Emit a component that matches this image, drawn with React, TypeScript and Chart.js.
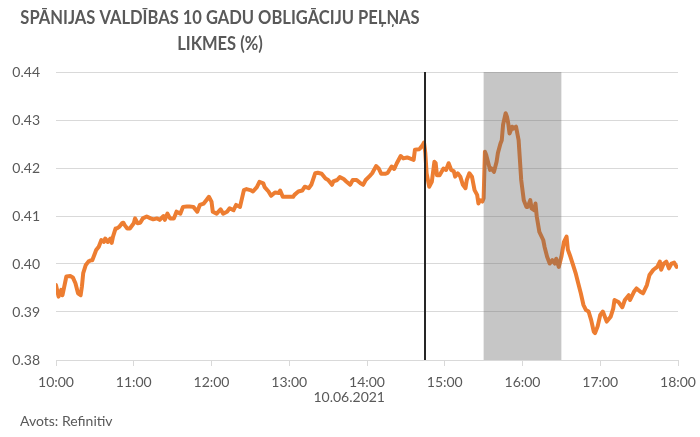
import React, { useEffect, useRef } from 'react';
import { Chart, registerables } from 'chart.js';

Chart.register(...registerables);

// minutes after 10:00 (10.06.2021)
const minutes = [
  0, 2, 4, 5, 8, 11, 13, 15, 17, 19, 20, 21, 23, 25, 27, 28, 30, 31, 33, 35,
  37, 38, 40, 42, 43, 44, 46, 47, 49, 51, 52, 53, 55, 57, 60, 61, 63, 65, 67, 70,
  73, 75, 78, 80, 83, 84, 86, 88, 91, 93, 96, 98, 101, 103, 106, 109, 111, 114, 116, 118,
  120, 121, 124, 127, 129, 132, 134, 137, 139, 142, 145, 147, 150, 152, 155, 157, 160, 161, 164, 166,
  169, 172, 173, 175, 179, 181, 183, 184, 187, 190, 192, 195, 197, 200, 202, 205, 208, 210, 213, 214,
  217, 219, 222, 224, 227, 229, 232, 235, 237, 239, 242, 244, 247, 249, 251, 254, 256, 259, 261, 263,
  266, 268, 271, 273, 276, 277, 280, 281, 283, 284, 285, 286, 288, 290, 292, 293, 294, 296, 299, 301,
  303, 305, 307, 308, 310, 312, 314, 316, 317, 319, 321, 322, 323, 325, 326, 327, 329, 330, 331, 332,
  334, 335, 336, 338, 340, 341, 343, 344, 345, 347, 348, 349, 350, 352, 353, 355, 357, 358, 359, 361,
  363, 364, 366, 367, 369, 370, 371, 373, 376, 377, 379, 381, 383, 385, 386, 388, 390, 392, 394, 395,
  397, 399, 401, 403, 405, 407, 409, 411, 413, 415, 416, 418, 420, 422, 424, 425, 428, 430, 431, 434,
  437, 439, 442, 443, 446, 448, 451, 453, 456, 458, 461, 464, 466, 467, 469, 471, 473, 475, 477, 479,
];

const yields = [
  0.3956, 0.3932, 0.3946, 0.3935, 0.3974, 0.3975, 0.3972, 0.396, 0.3939, 0.3935, 0.3953, 0.3981, 0.3998, 0.4005, 0.4008, 0.4008, 0.4022, 0.4029, 0.4036, 0.405,
  0.4046, 0.4053, 0.4046, 0.4053, 0.4044, 0.4057, 0.4074, 0.4074, 0.4078, 0.4085, 0.4086, 0.4081, 0.4074, 0.4074, 0.4085, 0.4095, 0.4085, 0.4086, 0.4095, 0.4099,
  0.4095, 0.4093, 0.4095, 0.4092, 0.41, 0.4092, 0.4105, 0.4095, 0.4095, 0.4109, 0.4105, 0.4119, 0.412, 0.412, 0.4119, 0.4109, 0.4123, 0.4126, 0.4133, 0.414,
  0.413, 0.4109, 0.4105, 0.4114, 0.4105, 0.4109, 0.4116, 0.4112, 0.4123, 0.4119, 0.4154, 0.4156, 0.4154, 0.4151, 0.416, 0.4171, 0.4168, 0.416, 0.4151, 0.4142,
  0.4149, 0.4148, 0.4153, 0.414, 0.414, 0.414, 0.414, 0.4144, 0.4151, 0.4153, 0.4161, 0.4158, 0.4165, 0.4189, 0.419, 0.4188, 0.4178, 0.4175, 0.4165, 0.4172,
  0.4175, 0.4181, 0.4177, 0.4172, 0.4165, 0.4175, 0.4175, 0.4168, 0.4165, 0.4175, 0.4183, 0.4189, 0.4204, 0.4199, 0.4188, 0.4188, 0.419, 0.4203, 0.4198, 0.421,
  0.4225, 0.422, 0.4222, 0.422, 0.4217, 0.4238, 0.4239, 0.4241, 0.4248, 0.4253, 0.4231, 0.4189, 0.4161, 0.4171, 0.4213, 0.421, 0.4185, 0.4185, 0.4199, 0.4196,
  0.421, 0.4196, 0.4193, 0.4182, 0.4189, 0.4182, 0.4165, 0.4158, 0.4175, 0.4189, 0.4182, 0.4168, 0.4154, 0.4144, 0.4126, 0.4133, 0.413, 0.4137, 0.4234, 0.4227,
  0.4206, 0.4196, 0.4199, 0.4192, 0.4213, 0.4231, 0.4251, 0.4258, 0.429, 0.4314, 0.4307, 0.4293, 0.4272, 0.4286, 0.4282, 0.4286, 0.4258, 0.4217, 0.4175, 0.4133,
  0.4119, 0.4119, 0.4133, 0.4116, 0.4112, 0.4126, 0.4099, 0.4067, 0.405, 0.4036, 0.4015, 0.4001, 0.4008, 0.4001, 0.4011, 0.3994, 0.4015, 0.4046, 0.4057, 0.403,
  0.4015, 0.3998, 0.3981, 0.396, 0.3939, 0.3915, 0.3904, 0.3901, 0.3883, 0.3859, 0.3856, 0.387, 0.3894, 0.3901, 0.3887, 0.388, 0.389, 0.3907, 0.3925, 0.3921,
  0.391, 0.3925, 0.3935, 0.3925, 0.3942, 0.3949, 0.3942, 0.3939, 0.3956, 0.3977, 0.3988, 0.3994, 0.4005, 0.3988, 0.4001, 0.4005, 0.3991, 0.4001, 0.4003, 0.3994,
];

const hourLabels = ['10:00', '11:00', '12:00', '13:00', '14:00', '15:00', '16:00', '17:00', '18:00'];
const yMin = 0.38;
const yMax = 0.44;
const yStep = 0.01;

const titleLines = ['SPĀNIJAS VALDĪBAS 10 GADU OBLIGĀCIJU PEĻŅAS', 'LIKMES (%)'];
const dateLabel = '10.06.2021';
const dateUnderHour = 240; // under 14:00
const sourceLabel = 'Avots: Refinitiv';
const eventMinute = 285; // 14:45
const bandStartMinute = 330; // 15:30
const bandEndMinute = 390; // 16:30

const TEXT = '#595959';
const GRID = '#d9d9d9';
const FONT = 'Lato, "Open Sans", sans-serif';

export default function App() {
  const ref = useRef<HTMLCanvasElement | null>(null);

  useEffect(() => {
    document.body.style.margin = '0';
    const canvas = ref.current;
    if (!canvas) return;

    const overlay = {
      id: 'overlay',
      afterDatasetsDraw(chart: any) {
        const { ctx, chartArea, scales } = chart;
        const x = scales.x;
        ctx.save();
        const x0 = x.getPixelForValue(bandStartMinute);
        const x1 = x.getPixelForValue(bandEndMinute);
        ctx.fillStyle = 'rgba(100,100,100,0.37)';
        ctx.fillRect(x0, chartArea.top, x1 - x0, chartArea.bottom - chartArea.top);
        const xe = Math.round(x.getPixelForValue(eventMinute));
        ctx.strokeStyle = '#262626';
        ctx.lineWidth = 2;
        ctx.beginPath();
        ctx.moveTo(xe, chartArea.top);
        ctx.lineTo(xe, chartArea.bottom);
        ctx.stroke();
        ctx.restore();
      },
      afterDraw(chart: any) {
        const { ctx, scales } = chart;
        ctx.save();
        ctx.fillStyle = TEXT;
        ctx.textBaseline = 'middle';
        ctx.textAlign = 'center';
        // condensed bold title (Calibri-like proportions)
        ctx.save();
        ctx.translate(220, 0);
        ctx.scale(0.87, 1);
        ctx.font = `bold 19px ${FONT}`;
        ctx.fillText(titleLines[0], 0, 18);
        ctx.fillText(titleLines[1], 0, 44);
        ctx.restore();

        ctx.font = `14px ${FONT}`;
        const hx = scales.x.getPixelForValue(dateUnderHour);
        const hw = ctx.measureText(hourLabels[4]).width;
        ctx.textAlign = 'right';
        ctx.fillText(dateLabel, hx + hw / 2, 397);

        ctx.textAlign = 'left';
        ctx.fillText(sourceLabel, 20, 421);
        ctx.restore();
      },
    };

    const chart = new Chart(canvas, {
      type: 'line',
      data: {
        datasets: [
          {
            data: minutes.map((m, i) => ({ x: m, y: yields[i] })),
            borderColor: '#ED7D31',
            borderWidth: 4,
            pointRadius: 0,
            tension: 0,
            borderJoinStyle: 'round',
            borderCapStyle: 'round',
          },
        ],
      },
      options: {
        responsive: false,
        animation: false,
        devicePixelRatio: 1,
        layout: { padding: { top: 72, right: 22, left: 0, bottom: 0 } },
        plugins: { legend: { display: false }, tooltip: { enabled: false }, title: { display: false } },
        scales: {
          x: {
            type: 'linear',
            min: 0,
            max: 480,
            afterFit(scale: any) {
              scale.height = 77;
              scale.paddingLeft = 0;
              scale.paddingRight = 0;
            },
            afterBuildTicks(scale: any) {
              scale.ticks = hourLabels.map((_, i) => ({ value: i * 60 }));
            },
            ticks: {
              autoSkip: false,
              maxRotation: 0,
              padding: 8,
              color: TEXT,
              font: { family: FONT, size: 14 },
              callback: (_v: any, i: number) => hourLabels[i],
            },
            grid: { drawOnChartArea: false, drawTicks: true, tickLength: 6, color: GRID },
            border: { display: true, color: GRID },
          },
          y: {
            min: yMin,
            max: yMax,
            afterFit(scale: any) {
              scale.width = 56;
            },
            ticks: {
              stepSize: yStep,
              padding: 16,
              color: TEXT,
              font: { family: FONT, size: 14 },
              callback: (v: any) => Number(v).toFixed(2),
            },
            grid: { color: GRID, drawTicks: false },
            border: { display: false },
          },
        },
      },
      plugins: [overlay],
    } as any);

    return () => chart.destroy();
  }, []);

  return (
    <div style={{ position: 'relative', width: 700, height: 437 }}>
      <canvas ref={ref} width={700} height={437} />
    </div>
  );
}
